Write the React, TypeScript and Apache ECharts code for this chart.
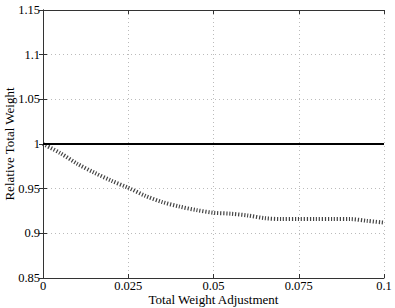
import React, { useEffect, useRef } from "react";
import * as echarts from "echarts";

const xValues = [0, 0.005, 0.01, 0.015, 0.02, 0.025, 0.03, 0.035, 0.04, 0.045, 0.05, 0.055, 0.06, 0.065, 0.07, 0.075, 0.08, 0.085, 0.09, 0.095, 0.1];
const relativeWeight = [1.0, 0.99, 0.978, 0.968, 0.959, 0.951, 0.942, 0.935, 0.93, 0.926, 0.923, 0.922, 0.92, 0.917, 0.916, 0.916, 0.916, 0.916, 0.916, 0.914, 0.912];
const baselineX = [0, 0.1];
const baselineY = [1, 1];
const xTickLabels = ["0", "0.025", "0.05", "0.075", "0.1"];
const yTickLabels = ["0.85", "0.9", "0.95", "1", "1.05", "1.1", "1.15"];

const FONT = "Liberation Serif";

export default function App() {
  const ref = useRef<HTMLDivElement>(null);
  useEffect(() => {
    if (!ref.current) return;
    const chart = echarts.init(ref.current, undefined, { renderer: "svg" });
    const axisLine = { show: true, lineStyle: { color: "#333", width: 1 } };
    const tick = { show: true, inside: true, length: 4, lineStyle: { color: "#333" } };
    const grid = { show: true, lineStyle: { color: "#bbb", type: [1, 3] as any, width: 1 } };
    const xFmt = (v: number) => xTickLabels[Math.round(v / 0.025)] ?? "";
    const yFmt = (v: number) => yTickLabels[Math.round((v - 0.85) / 0.05)] ?? "";
    chart.setOption({
      animation: false,
      backgroundColor: "#fff",
      grid: { left: 43, right: 11, top: 10, bottom: 30, containLabel: false, outerBoundsMode: "none" },
      xAxis: [
        {
          type: "value", min: 0, max: 0.1, interval: 0.025, position: "bottom",
          name: "Total Weight Adjustment", nameLocation: "middle", nameGap: 15, nameMoveOverlap: false,
          nameTextStyle: { fontFamily: FONT, fontSize: 13, color: "#000" },
          axisLine, axisTick: tick, splitLine: grid,
          axisLabel: { formatter: xFmt, fontFamily: FONT, fontSize: 12.5, color: "#000", margin: 1 },
        },
        {
          type: "value", min: 0, max: 0.1, interval: 0.025, position: "top",
          axisLine, axisTick: tick, splitLine: { show: false }, axisLabel: { show: false },
        },
      ],
      yAxis: [
        {
          type: "value", min: 0.85, max: 1.15, interval: 0.05, position: "left",
          name: "Relative Total Weight", nameLocation: "middle", nameGap: 27, nameRotate: 90, nameMoveOverlap: false,
          nameTextStyle: { fontFamily: FONT, fontSize: 13, color: "#000" },
          axisLine, axisTick: tick, splitLine: grid,
          axisLabel: { formatter: yFmt, fontFamily: FONT, fontSize: 12.5, color: "#000", margin: 3 },
        },
        {
          type: "value", min: 0.85, max: 1.15, interval: 0.05, position: "right",
          axisLine, axisTick: tick, splitLine: { show: false }, axisLabel: { show: false },
        },
      ],
      series: [
        {
          type: "line",
          data: baselineX.map((x, i) => [x, baselineY[i]]),
          showSymbol: false,
          lineStyle: { color: "#000", width: 2 },
          z: 3,
        },
        {
          type: "line",
          data: xValues.map((x, i) => [x, relativeWeight[i]]),
          showSymbol: false,
          smooth: 0.3,
          lineStyle: { color: "#444", width: 4, type: [1.2, 1.8] as any },
          z: 2,
        },
      ],
    });
    return () => chart.dispose();
  }, []);
  return <div ref={ref} style={{ width: 395, height: 308, position: "absolute", left: 0, top: 0 }} />;
}
